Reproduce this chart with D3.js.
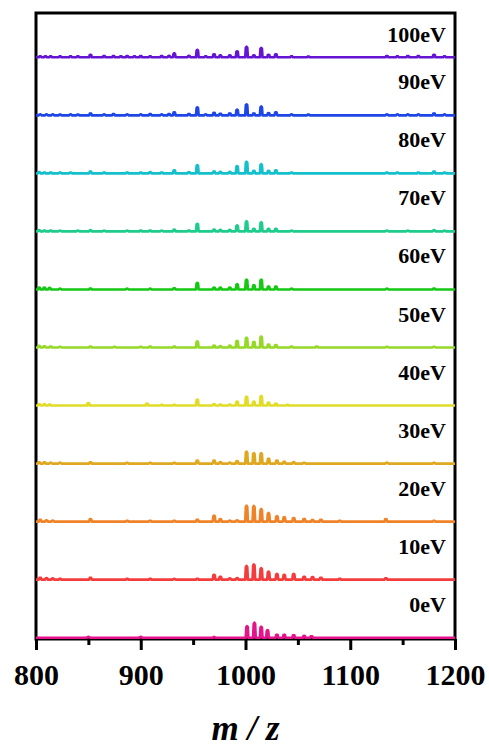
<!DOCTYPE html>
<html>
<head>
<meta charset="utf-8">
<script src="https://cdn.jsdelivr.net/npm/d3@7"></script>
<style>
  html, body { margin: 0; padding: 0; background: #ffffff; }
  svg { display: block; }
</style>
</head>
<body>
<svg id="chart" width="489" height="747"></svg>
<script>
// ---------------- DATA ----------------
const energies = [100, 90, 80, 70, 60, 50, 40, 30, 20, 10, 0];
const energyLabels = ["100eV", "90eV", "80eV", "70eV", "60eV", "50eV", "40eV", "30eV", "20eV", "10eV", "0eV"];
const seriesColors = ["#6414d2", "#1e46e6", "#14c0cc", "#1ecc8c", "#14c814", "#96d828", "#e0dc28", "#e0a820", "#f08228", "#f53c3c", "#e6148c"];
const majorTicks = [800, 900, 1000, 1100, 1200];
const minorTicks = [850, 950, 1050, 1150];
const xTitle = "m / z";

// peaks: [m/z, relative intensity]
const peaks100 = [[804,6],[809,6],[814,6],[823,6],[833,6],[840,6],[852,16],[865,8],[874,8],[881,6],[887,8],[894,6],[900,8],[909,6],[920,8],[927,9],[932,25],[946,9],[954,47],[962,6],[970,19],[976,12],[985,12],[992,38],[1001,66],[1008,12],[1015,59],[1022,16],[1029,19],[1044,6],[1060,5],[1135,8],[1145,6],[1155,8],[1165,8],[1180,16],[1190,6]];
const peaks90 = [[804,6],[810,6],[816,6],[823,5],[833,6],[840,5],[852,12],[865,6],[874,8],[887,6],[900,6],[909,8],[920,6],[927,8],[932,19],[946,8],[954,50],[962,6],[970,16],[976,10],[985,12],[992,36],[1001,69],[1008,12],[1015,56],[1022,14],[1029,19],[1044,6],[1060,5],[1135,6],[1145,6],[1155,6],[1165,6],[1180,12],[1190,6]];
const peaks80 = [[803,8],[808,6],[814,6],[823,5],[833,5],[852,12],[865,6],[887,6],[900,6],[909,8],[920,6],[932,19],[946,8],[954,52],[970,12],[976,10],[985,10],[992,46],[1001,73],[1008,16],[1015,58],[1022,16],[1029,19],[1044,5],[1135,5],[1145,5],[1165,6],[1180,12],[1190,5]];
const peaks70 = [[803,8],[808,6],[814,6],[823,5],[840,5],[852,8],[865,5],[887,5],[900,6],[909,6],[920,5],[932,12],[946,6],[954,48],[970,12],[976,10],[985,10],[992,38],[1001,64],[1008,16],[1015,58],[1022,16],[1029,16],[1044,5],[1135,5],[1155,5],[1180,8],[1190,5]];
const peaks60 = [[803,12],[808,12],[813,10],[823,5],[852,6],[887,5],[909,5],[932,8],[954,42],[970,12],[976,12],[985,12],[992,33],[1001,62],[1008,27],[1015,62],[1022,19],[1029,19],[1044,5],[1135,5],[1180,6]];
const peaks50 = [[803,10],[808,8],[814,6],[823,5],[852,6],[875,5],[900,5],[909,6],[932,6],[954,38],[970,12],[976,9],[985,12],[992,42],[1001,62],[1008,36],[1015,69],[1022,19],[1029,16],[1044,6],[1068,6],[1135,5],[1180,5]];
const peaks40 = [[803,9],[808,9],[813,6],[850,16],[906,12],[920,5],[932,5],[954,38],[970,9],[976,6],[985,6],[992,25],[1001,56],[1008,25],[1015,61],[1022,19],[1029,12],[1040,5]];
const peaks30 = [[803,8],[808,8],[814,6],[823,6],[852,8],[887,5],[909,5],[932,5],[954,19],[970,19],[976,9],[985,6],[992,16],[1001,75],[1008,66],[1015,66],[1022,31],[1030,19],[1037,12],[1046,9],[1056,5],[1135,6],[1180,5]];
const peaks20 = [[804,12],[810,8],[816,6],[852,16],[887,5],[909,5],[932,5],[954,12],[970,38],[976,16],[985,6],[992,8],[1001,100],[1008,98],[1015,79],[1022,54],[1030,34],[1037,28],[1046,23],[1056,17],[1064,10],[1072,12],[1090,5],[1134,16],[1180,5]];
const peaks10 = [[804,12],[810,10],[816,8],[823,6],[852,12],[887,6],[909,6],[932,5],[954,6],[970,31],[976,19],[985,8],[992,10],[1001,86],[1008,96],[1015,72],[1022,51],[1030,36],[1037,31],[1046,36],[1056,19],[1064,16],[1072,12],[1090,6],[1134,9]];
const peaks0 = [[850,5],[900,5],[970,4],[1001.5,72],[1008.5,94],[1015,69],[1021,48],[1030,19],[1037,19],[1046,16],[1056,12],[1063,9]];

const spectra = [peaks100, peaks90, peaks80, peaks70, peaks60, peaks50, peaks40, peaks30, peaks20, peaks10, peaks0];

// ---------------- LAYOUT ----------------
(function () {
const svg = d3.select("#chart");
const mLeft = 36, mRight = 455, mTop = 13, mBottom = 639;
const serif = "'Liberation Serif', 'Times New Roman', Times, serif";

const x = d3.scaleLinear().domain([800, 1200]).range([mLeft, mRight]);
const yBase = d3.scaleLinear().domain([0, 100]).range([637.7, 57.3]);
const h = d3.scaleLinear().domain([0, 100]).range([0, 16]);

svg.append("rect").attr("x", 0).attr("y", 0).attr("width", 489).attr("height", 747).attr("fill", "#ffffff");

// frame
svg.append("rect")
  .attr("x", mLeft).attr("y", mTop)
  .attr("width", mRight - mLeft).attr("height", mBottom - mTop)
  .attr("fill", "none").attr("stroke", "#000").attr("stroke-width", 3);

// axes
const axisG = svg.append("g").attr("transform", `translate(0,${mBottom})`);
axisG.call(d3.axisBottom(x).tickValues(majorTicks).tickSize(11).tickPadding(14).tickFormat(d3.format("d")));
axisG.select(".domain").remove();
axisG.selectAll(".tick line").attr("stroke", "#000").attr("stroke-width", 3);
axisG.selectAll(".tick text")
  .attr("fill", "#000")
  .style("font-family", serif).style("font-weight", "bold").style("font-size", "30px");

const minorG = svg.append("g").attr("transform", `translate(0,${mBottom})`);
minorG.call(d3.axisBottom(x).tickValues(minorTicks).tickSize(6).tickFormat(""));
minorG.select(".domain").remove();
minorG.selectAll(".tick line").attr("stroke", "#000").attr("stroke-width", 3);

// spectra
energies.forEach((E, i) => {
  const pk = spectra[i].slice().sort((a, b) => a[0] - b[0]);
  const pts = [[800, 0]];
  pk.forEach(([m, v]) => {
    pts.push([m - 1.3, 0], [m - 0.7, v * 0.92], [m, v], [m + 0.7, v * 0.92], [m + 1.3, 0]);
  });
  pts.push([1200, 0]);
  const line = d3.line()
    .x(d => x(d[0]))
    .y(d => yBase(E) - h(d[1]));
  svg.append("path")
    .attr("d", line(pts))
    .attr("fill", seriesColors[i])
    .attr("stroke", seriesColors[i])
    .attr("stroke-width", 2.6)
    .attr("stroke-linejoin", "round");

  svg.append("text")
    .attr("x", 446)
    .attr("y", Math.max(yBase(E) - 26, 42))
    .attr("text-anchor", "end")
    .style("font-family", serif).style("font-weight", "bold").style("font-size", "22px")
    .attr("fill", "#000")
    .text(energyLabels[i]);
});

// axis title
svg.append("text")
  .attr("x", (mLeft + mRight) / 2)
  .attr("y", 740)
  .attr("text-anchor", "middle")
  .style("font-family", serif).style("font-weight", "bold").style("font-style", "italic").style("font-size", "35px")
  .attr("fill", "#000")
  .text(xTitle);
})();
</script>
</body>
</html>
